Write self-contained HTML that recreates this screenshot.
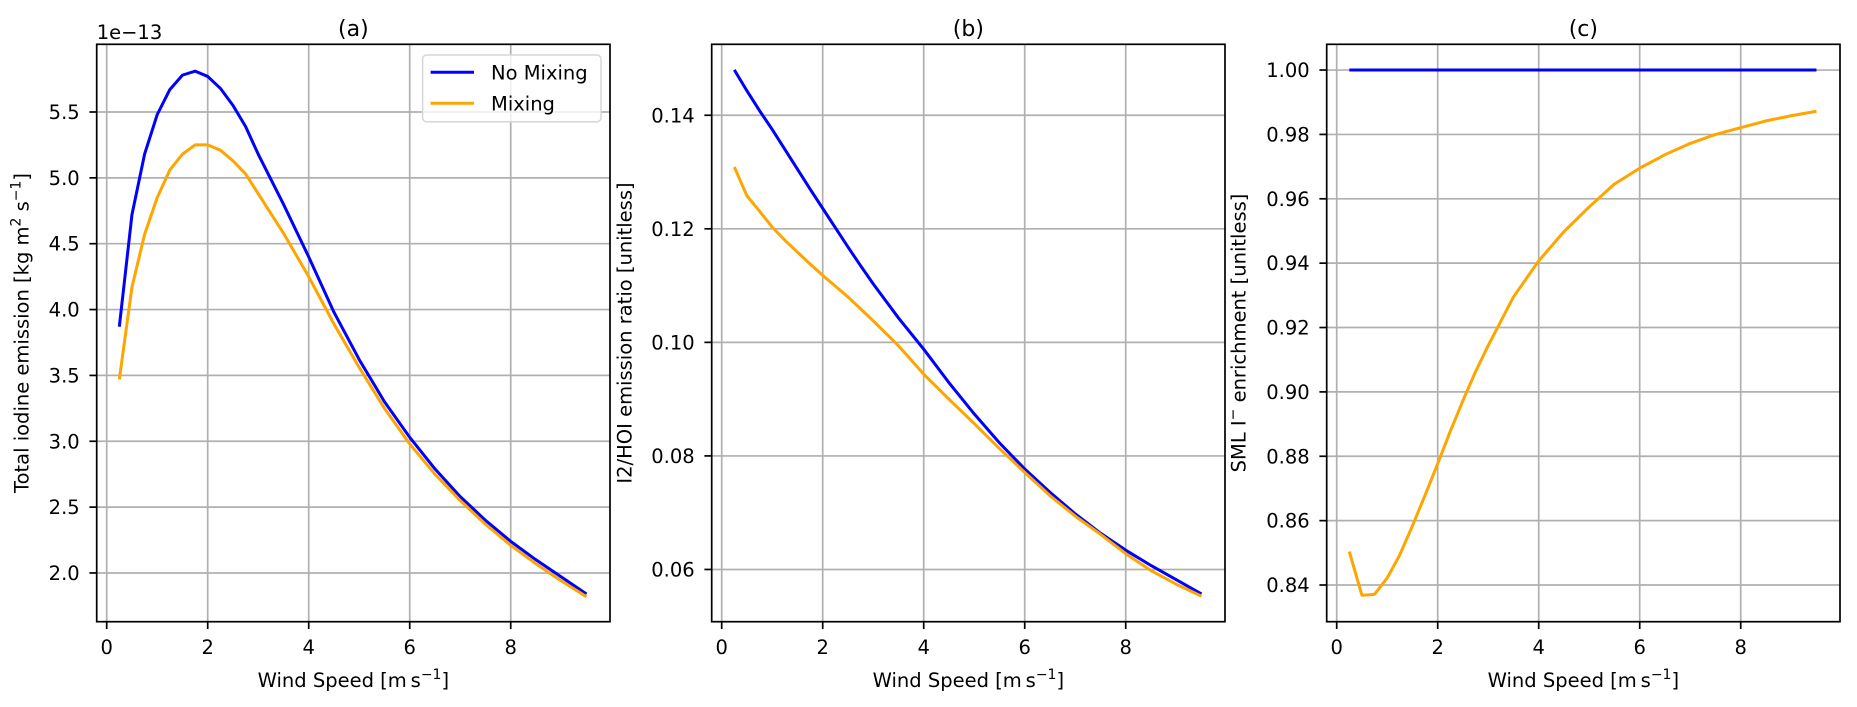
<!DOCTYPE html>
<html><head><meta charset="utf-8">
<style>
html,body{margin:0;padding:0;background:#fff;}
svg{display:block;font-family:"DejaVu Sans","Liberation Sans",sans-serif;}
</style></head>
<body>
<svg id="fig" width="1857" height="707" viewBox="0 0 1857 707" xmlns="http://www.w3.org/2000/svg"></svg>
<script>
const windSpeed = [0.25,0.5,0.75,1,1.25,1.5,1.75,2,2.25,2.5,2.75,3,3.5,4,4.5,5,5.5,6,6.5,7,7.5,8,8.5,9,9.5];
const emisNoMix = [3.87,4.72,5.18,5.48,5.67,5.78,5.81,5.77,5.68,5.55,5.39,5.18,4.80,4.40,3.98,3.62,3.30,3.03,2.79,2.58,2.40,2.24,2.10,1.97,1.84];
const emisMix   = [3.47,4.17,4.57,4.85,5.06,5.18,5.25,5.25,5.21,5.13,5.03,4.88,4.58,4.25,3.89,3.56,3.25,2.98,2.75,2.55,2.37,2.21,2.07,1.94,1.82];
const ratioNoMix = [0.148,0.1443,0.1408,0.1375,0.1340,0.1305,0.1270,0.1236,0.1202,0.1168,0.1135,0.1103,0.1043,0.0988,0.0929,0.0874,0.0823,0.0777,0.0736,0.0698,0.0664,0.0634,0.0607,0.0582,0.0557];
const ratioMix   = [0.1309,0.1258,0.1231,0.1203,0.1180,0.1159,0.1138,0.1118,0.1099,0.1080,0.1059,0.1038,0.0994,0.0944,0.0900,0.0857,0.0813,0.0771,0.0730,0.0694,0.0662,0.0628,0.0598,0.0574,0.0553];
const enrichNoMix = [1,1,1,1,1,1,1,1,1,1,1,1,1,1,1,1,1,1,1,1,1,1,1,1,1];
const enrichMix   = [0.8504,0.8368,0.8371,0.8422,0.8494,0.8584,0.8679,0.8777,0.8878,0.8973,0.9063,0.9144,0.9295,0.9407,0.9498,0.9575,0.9646,0.9695,0.9737,0.9772,0.9800,0.9821,0.9842,0.9858,0.9872];
const xTicks = [0,2,4,6,8];
const yTicksA = [2.0,2.5,3.0,3.5,4.0,4.5,5.0,5.5];
const yTicksB = [0.06,0.08,0.10,0.12,0.14];
const yTicksC = [0.84,0.86,0.88,0.90,0.92,0.94,0.96,0.98,1.00];

const NS = "http://www.w3.org/2000/svg";
const fig = document.getElementById('fig');
function mk(tag, attrs, parent){const e=document.createElementNS(NS,tag);for(const k in attrs)e.setAttribute(k,attrs[k]);(parent||fig).appendChild(e);return e;}

const TOP=44.3, BOT=621.7, W=513.3, XMIN=-0.198, XMAX=9.966;
const panels = [
 {left:96.7, ymin:1.63, ymax:6.014, ticks:yTicksA, dec:1, s1:emisNoMix, s2:emisMix, title:'(a)', key:'a', ylabOff:68},
 {left:711.7, ymin:0.0508, ymax:0.1525, ticks:yTicksB, dec:2, s1:ratioNoMix, s2:ratioMix, title:'(b)', key:'b', ylabOff:80},
 {left:1326.7, ymin:0.8286, ymax:1.008, ticks:yTicksC, dec:2, s1:enrichNoMix, s2:enrichMix, title:'(c)', key:'c', ylabOff:81}
];

panels.forEach((p,pi)=>{
  const g = mk('g',{});
  
  
  const xs = v => p.left + (v-XMIN)/(XMAX-XMIN)*W;
  const ys = v => BOT - (v-p.ymin)/(p.ymax-p.ymin)*(BOT-TOP);
  xTicks.forEach(t=>{
    const l=mk('line',{x1:xs(t),x2:xs(t),y1:TOP,y2:BOT,stroke:'#b0b0b0','stroke-width':1.7},g);
    
    
    const tk=mk('line',{x1:xs(t),x2:xs(t),y1:BOT,y2:BOT+7.3,stroke:'#000','stroke-width':1.7},g);
    
    
    const tx=mk('text',{x:xs(t),y:654,'text-anchor':'middle','font-size':19.5,fill:'#000'},g);
    tx.textContent=String(t);
    
    
  });
  p.ticks.forEach(t=>{
    const l=mk('line',{x1:p.left,x2:p.left+W,y1:ys(t),y2:ys(t),stroke:'#b0b0b0','stroke-width':1.7},g);
    
    
    const tk=mk('line',{x1:p.left-7.3,x2:p.left,y1:ys(t),y2:ys(t),stroke:'#000','stroke-width':1.7},g);
    
    
    const tx=mk('text',{x:p.left-17,y:ys(t)+7,'text-anchor':'end','font-size':19.5,fill:'#000'},g);
    tx.textContent=t.toFixed(p.dec);
    
    
  });
  const path = arr => windSpeed.map((x,i)=>(i?'L':'M')+xs(x).toFixed(2)+','+ys(arr[i]).toFixed(2)).join(' ');
  const l1=mk('path',{d:path(p.s1),fill:'none',stroke:'#0000ff','stroke-width':3,'stroke-linejoin':'round'},g);
  
  
  const l2=mk('path',{d:path(p.s2),fill:'none',stroke:'#ffa500','stroke-width':3,'stroke-linejoin':'round'},g);
  
  
  const fr=mk('rect',{x:p.left,y:TOP,width:W,height:BOT-TOP,fill:'none',stroke:'#000','stroke-width':1.7},g);
  
  
  const ti=mk('text',{x:p.left+W/2,y:36,'text-anchor':'middle','font-size':22,fill:'#000'},g);
  ti.textContent=p.title;
  
  
  const xl=mk('text',{x:p.left+W/2,y:687,'text-anchor':'middle','font-size':19.5,fill:'#000'},g);
  xl.innerHTML='Wind Speed [m\u2009s<tspan dy="-8" font-size="14">\u22121</tspan><tspan dy="8">]</tspan>';
  
  
  const cx=p.left-p.ylabOff, cy=(TOP+BOT)/2;
  const yl=mk('text',{x:cx,y:cy,'text-anchor':'middle','font-size':19.5,fill:'#000',transform:'rotate(-90 '+cx+' '+cy+')'},g);
  if(pi===0) yl.innerHTML='Total iodine emission [kg m<tspan dy="-8" font-size="14">2</tspan><tspan dy="8"> s</tspan><tspan dy="-8" font-size="14">\u22121</tspan><tspan dy="8">]</tspan>';
  else if(pi===1) yl.textContent='I2/HOI emission ratio [unitless]';
  else yl.innerHTML='SML I<tspan dy="-8" font-size="14">\u2212</tspan><tspan dy="8"> enrichment [unitless]</tspan>';
  
  
});

const off=mk('text',{x:96.7,y:39,'font-size':19.5,fill:'#000'});
off.textContent='1e\u221213';



const lg=mk('g',{});


mk('rect',{x:422.6,y:55,width:178.4,height:66.7,rx:4,fill:'#fff','fill-opacity':0.8,stroke:'#d6d6d6','stroke-width':1.5},lg);
const le1=mk('line',{x1:430.6,x2:474,y1:72.3,y2:72.3,stroke:'#0000ff','stroke-width':3},lg);


const lt1=mk('text',{x:491,y:79.3,'font-size':19.5,fill:'#000'},lg);
lt1.textContent='No Mixing';
const le2=mk('line',{x1:430.6,x2:474,y1:103.3,y2:103.3,stroke:'#ffa500','stroke-width':3},lg);


const lt2=mk('text',{x:491,y:110.3,'font-size':19.5,fill:'#000'},lg);
lt2.textContent='Mixing';
</script>
</body></html>
